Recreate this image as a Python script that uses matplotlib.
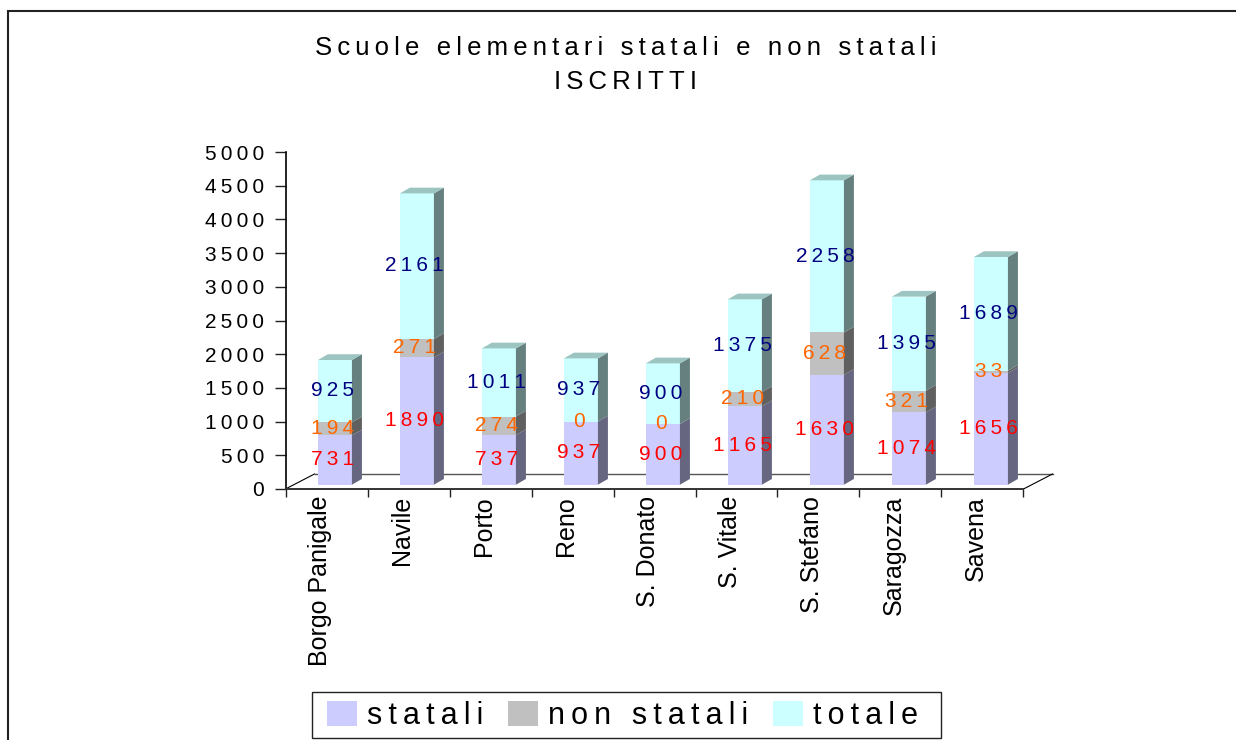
import matplotlib
matplotlib.use("Agg")
import matplotlib.pyplot as plt
from matplotlib.patches import Polygon, Patch, Rectangle

plt.rcParams['font.family'] = ['Liberation Sans', 'DejaVu Sans']

zone = ["Borgo Panigale", "Navile", "Porto", "Reno", "S. Donato",
        "S. Vitale", "S. Stefano", "Saragozza", "Savena"]
statali = [731, 1890, 737, 937, 900, 1165, 1630, 1074, 1656]
non_statali = [194, 271, 274, 0, 0, 210, 628, 321, 33]
totale = [925, 2161, 1011, 937, 900, 1375, 2258, 1395, 1689]
yticks = [0, 500, 1000, 1500, 2000, 2500, 3000, 3500, 4000, 4500, 5000]

W, H = 1236, 740


def spaced(s):
    # il grafico originale ha le lettere distanziate
    return "\u2009".join(s)


fig = plt.figure(figsize=(W / 100, H / 100), dpi=100, facecolor='white')
ax = fig.add_axes([285.5 / W, 1 - 489 / H, 738 / W, 337 / H])
ax.set_xlim(0, 9)
ax.set_ylim(0, 5000)
ax.patch.set_visible(False)

# cornice esterna, tagliata a destra e in basso
fig.add_artist(Rectangle((8 / W, -0.1), 1.1, 0.1 + 1 - 10.5 / H, transform=fig.transFigure,
                         fill=False, edgecolor='#222222', linewidth=1.5))

# pavimento finto 3d
floor_dx = 0.354
floor_dy = 223
ax.plot([floor_dx, 9 + floor_dx], [floor_dy, floor_dy], color='#555555', lw=1.0, clip_on=False, zorder=1)
ax.plot([0, floor_dx], [0, floor_dy], color='black', lw=0.8, clip_on=False, zorder=1)
ax.plot([9, 9 + floor_dx], [0, floor_dy], color='black', lw=0.8, clip_on=False, zorder=1)

# barre
bar_w = 0.415
bar_x0 = 0.395
base = 64
depth_x = 0.122
depth_y = 85
front_cols = ['#CCCCFF', '#C0C0C0', '#CCFFFF']
side_cols = ['#666680', '#606060', '#668080']
top_col = '#9CC4C0'
label_cols = ['#FF0000', '#FF6600', '#000080']

for i in range(len(zone)):
    x0 = i + bar_x0
    x1 = x0 + bar_w
    bottom = base
    vals = [statali[i], non_statali[i], totale[i]]
    for j in range(3):
        top = bottom + vals[j]
        ax.add_patch(Polygon([(x0, bottom), (x1, bottom), (x1, top), (x0, top)],
                             facecolor=front_cols[j], edgecolor='none', clip_on=False, zorder=3))
        ax.add_patch(Polygon([(x1, bottom), (x1 + depth_x, bottom + depth_y),
                              (x1 + depth_x, top + depth_y), (x1, top)],
                             facecolor=side_cols[j], edgecolor='none', clip_on=False, zorder=3))
        ax.text(x0 + bar_w / 2 - 0.025, (bottom + top) / 2 + 5, spaced(str(vals[j])),
                color=label_cols[j], fontsize=15, ha='center', va='center', zorder=6)
        bottom = top
    ax.add_patch(Polygon([(x0, bottom), (x1, bottom), (x1 + depth_x, bottom + depth_y),
                          (x0 + depth_x, bottom + depth_y)],
                         facecolor=top_col, edgecolor='none', clip_on=False, zorder=3))

# assi
for s in ['top', 'right']:
    ax.spines[s].set_visible(False)
ax.spines['left'].set_linewidth(1.2)
ax.spines['bottom'].set_linewidth(1.4)
ax.spines['bottom'].set_color('#333333')
ax.set_yticks(yticks)
ax.set_yticklabels([spaced(str(v)) for v in yticks], fontsize=15)
ax.tick_params(axis='y', length=8, width=1.0, pad=7.5, color='#222222')
ax.set_xticks(range(len(zone) + 1))
ax.set_xticklabels([])
ax.tick_params(axis='x', length=5.8, width=1.0, color='#222222')

for i, name in enumerate(zone):
    ax.annotate(name, (i + 0.5, 0), xytext=(-5, -5), textcoords='offset points',
                rotation=90, ha='center', va='top', fontsize=18, color='black', annotation_clip=False)

fig.text(626 / W, 1 - 65 / H, spaced("Scuole elementari statali e non statali") + "\n" + spaced("ISCRITTI"),
         ha='center', va='center', fontsize=18.5, linespacing=1.5)

# riquadro della legenda
fig.add_artist(Rectangle((312 / W, 1 - 738 / H), 629 / W, 46 / H, transform=fig.transFigure,
                         facecolor='white', edgecolor='#222222', linewidth=1.0))
handles = [Patch(facecolor=front_cols[0]), Patch(facecolor=front_cols[1]), Patch(facecolor=front_cols[2])]
leg = fig.legend(handles, [spaced("statali"), spaced("non statali"), spaced("totale")],
                 loc='center', bbox_to_anchor=(622.5 / W, 1 - 716 / H), ncol=3, fontsize=22,
                 frameon=False, handlelength=1.0, handleheight=0.85, handletextpad=0.32,
                 columnspacing=0.8, borderpad=0, borderaxespad=0)
leg.set_zorder(5)

fig.savefig('out.png', dpi=100)
